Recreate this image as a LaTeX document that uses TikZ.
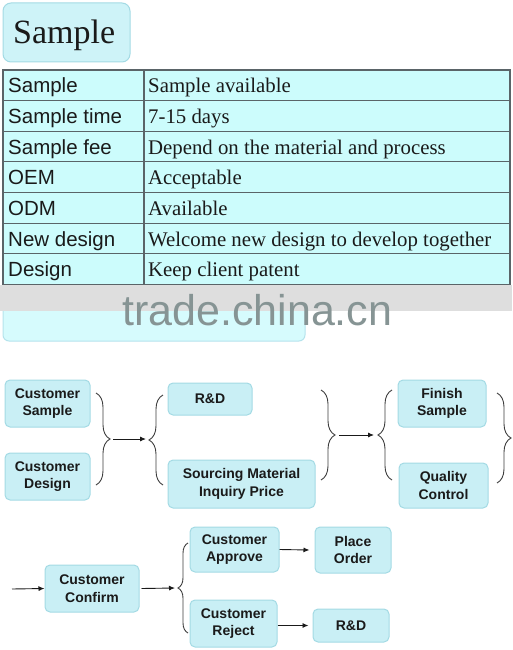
\documentclass[tikz,border=0pt]{standalone}
\usepackage{fontspec}
\setmainfont{Liberation Serif}
\setsansfont{Liberation Sans}
\usetikzlibrary{positioning,arrows.meta,decorations.pathreplacing}

\definecolor{boxfill}{HTML}{C9EFF5}
\definecolor{boxline}{HTML}{A3DAE4}
\definecolor{titlefill}{HTML}{CEF3F8}
\definecolor{tablefill}{HTML}{CCFCFC}
\definecolor{tableline}{HTML}{5A6468}
\definecolor{stripfill}{HTML}{D6FBFD}
\definecolor{stripline}{HTML}{B5E3EC}
\definecolor{bandgray}{HTML}{DEDEDE}
\definecolor{markgray}{HTML}{869494}
\definecolor{inkdark}{HTML}{1A1A1A}

\tikzset{
  stepbox/.style={draw=boxline, fill=boxfill, rounded corners=5pt, line width=1pt,
    align=center, inner sep=0pt, text=inkdark,
    font=\sffamily\bfseries\fontsize{14}{17.5}\selectfont},
  bracepath/.style={draw=inkdark!85, line width=0.9pt, decorate,
    decoration={brace, amplitude=#1}},
  flowarrow/.style={-{Latex[length=6pt,width=5pt]}, line width=0.9pt, draw=inkdark},
  keytext/.style={anchor=base west, inner sep=0pt, text=inkdark,
    font=\sffamily\fontsize{20.5}{24}\selectfont},
  valtext/.style={anchor=base west, inner sep=0pt, text=inkdark,
    font=\fontsize{20.8}{24}\selectfont},
}

\begin{document}
\begin{tikzpicture}[x=1pt, y=-1pt]
\useasboundingbox (0,0) rectangle (512,650);

% title box
\node[draw=boxline, fill=titlefill, rounded corners=8pt, line width=1pt,
  minimum width=127pt, minimum height=59pt] (title) at (66.5,32.5) {};
\node[anchor=base west, inner sep=0pt, text=inkdark, font=\fontsize{34}{40}\selectfont]
  (titletext) at (13,44) {Sample};

% table
\fill[tablefill] (3,70) rectangle (510,284.5);
\foreach \key/\val [count=\i from 0] in {Sample/Sample available, Sample time/7-15 days,
    Sample fee/Depend on the material and process, OEM/Acceptable, ODM/Available,
    New design/Welcome new design to develop together, Design/Keep client patent}
{
  \node[keytext] (key\i) at (8,{70+30.64*\i+23}) {\key};
  \node[valtext] (val\i) at (148,{70+30.64*\i+23}) {\val};
  \draw[tableline, line width=1.1pt] (3,{70+30.64*\i}) -- (510,{70+30.64*\i});
}
\draw[tableline, line width=1.1pt] (3,70) rectangle (510,284.5);
\draw[tableline, line width=1.1pt] (144,70) -- (144,284.5);

% band, strip and watermark under the table
\draw[draw=stripline, fill=stripfill, rounded corners=6pt, line width=1pt] (3,300) rectangle (305,341);
\fill[bandgray] (0,285.1) rectangle (512,311);
\node[anchor=base west, inner sep=0pt, text=markgray, font=\sffamily\fontsize{43}{43}\selectfont]
  (mark) at (122,325) {trade.china.cn};

% first row of the flow
\node[stepbox, minimum width=85pt, minimum height=47pt] (csample) at (47.5,403.5) {Customer\\Sample};
\node[stepbox, minimum width=85pt, minimum height=47pt] (cdesign) at (47.5,476.5) {Customer\\Design};
\node[stepbox, minimum width=84pt, minimum height=32pt] (rd1) at (210,399) {R\&D};
\node[stepbox, minimum width=147pt, minimum height=48pt] (sourcing) at (241.5,484) {Sourcing Material\\Inquiry Price};
\node[stepbox, minimum width=88pt, minimum height=47pt] (finish) at (442,403.5) {Finish\\Sample};
\node[stepbox, minimum width=89pt, minimum height=45pt] (quality) at (443.5,485.5) {Quality\\Control};

\coordinate (b1tip) at (110,439);
\coordinate (b2tip) at (149,439);
\coordinate (b3tip) at (335,435);
\coordinate (b4tip) at (378,435);
\draw[bracepath=14pt] (96,393) -- (96,485);
\draw[bracepath=14pt] (163,485) -- (163,395);
\draw[bracepath=14pt] (321,390) -- (321,480);
\draw[bracepath=14pt] (392,480) -- (392,390);
\draw[bracepath=14pt] (497,393) -- (497,483);
\draw[flowarrow] ([xshift=3pt]b1tip) -- ([xshift=-3pt]b2tip);
\draw[flowarrow] ([xshift=4pt]b3tip) -- ([xshift=-4pt]b4tip);

% second row of the flow
\node[stepbox, minimum width=94pt, minimum height=47pt] (confirm) at (92,588.5) {Customer\\Confirm};
\node[stepbox, minimum width=89pt, minimum height=45pt] (approve) at (234.5,549.5) {Customer\\Approve};
\node[stepbox, minimum width=87pt, minimum height=47pt] (reject) at (233.5,623.5) {Customer\\Reject};
\node[stepbox, minimum width=76pt, minimum height=46pt] (placeorder) at (353,550) {Place\\Order};
\node[stepbox, minimum width=76pt, minimum height=33pt] (rd2) at (351,625.5) {R\&D};

\coordinate (start) at (12,589);
\coordinate (b6tip) at (178,588);
\draw[bracepath=10pt] (188,633) -- (188,543);
\draw[flowarrow] (start) -- (confirm.west);
\draw[flowarrow] ([xshift=2pt]confirm.east) -- ([xshift=-3pt]b6tip);
\draw[flowarrow] (approve.east) -- ([xshift=-5pt]placeorder.west);
\draw[flowarrow] (reject.east |- rd2.west) -- ([xshift=-4pt]rd2.west);
\end{tikzpicture}
\end{document}
